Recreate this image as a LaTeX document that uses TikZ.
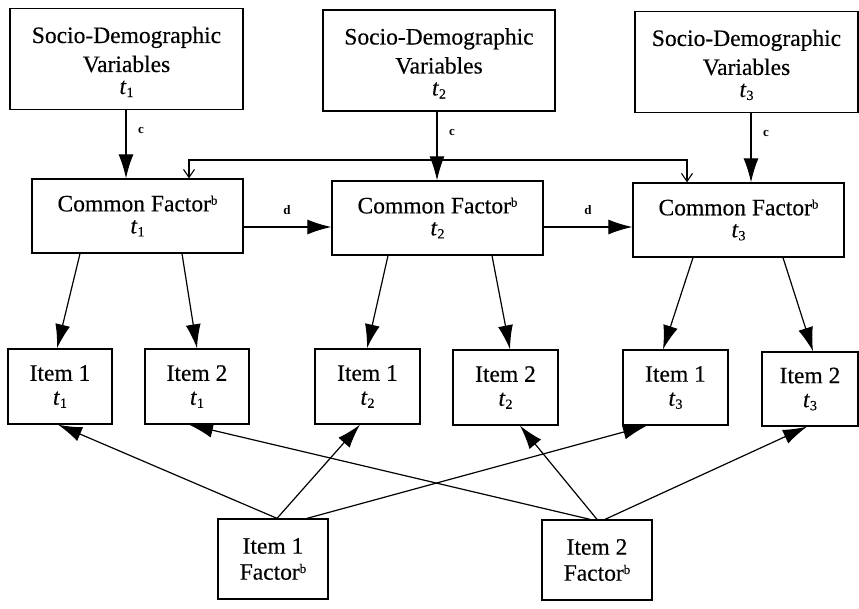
\documentclass[tikz,border=0pt]{standalone}
\usepackage{fontspec}
\setmainfont{Liberation Serif}[FakeBold=0.35, ItalicFeatures={FakeBold=0.35}, BoldFeatures={FakeBold=0}]
\usetikzlibrary{arrows.meta}
\newcommand\tsb[1]{\textit{t}\raisebox{-0.28ex}{\fontsize{14}{14}\selectfont #1}}
\newcommand\supb{\raisebox{0.62ex}{\fontsize{13}{13}\selectfont b}}
\begin{document}
\begin{tikzpicture}[x=1pt,y=-1pt,
  font=\fontsize{23.5}{26}\selectfont,
  box/.style={draw, line width=1.3pt, inner sep=0pt, align=center},
  sdbox/.style={box, minimum height=101pt},
  cfbox/.style={box, minimum width=211pt, minimum height=74pt},
  itbox/.style={box, minimum width=105pt, minimum height=75pt},
  fbox/.style={box, minimum width=110pt, minimum height=80pt},
  arr/.style={-{Latex[length=24pt,width=15pt]}, line width=1.2pt},
  fbarr/.style={-{Straight Barb[length=8pt,width=11pt]}, line width=1.1pt},
  lab/.style={font=\fontsize{13}{13}\selectfont\bfseries, inner sep=0pt}]
\useasboundingbox (0,0) rectangle (859,608);

% socio-demographic boxes
\node[sdbox, minimum width=233pt] (SD1) at (126.5,59) {\rule{0pt}{22pt}Socio-Demographic\\[3pt]Variables\\[-4pt]\tsb{1}};
\node[sdbox, minimum width=232pt] (SD2) at (439,60.5) {\rule{0pt}{22pt}Socio-Demographic\\[3pt]Variables\\[-4pt]\tsb{2}};
\node[sdbox, minimum width=223pt] (SD3) at (746.5,62) {\rule{0pt}{22pt}Socio-Demographic\\[3pt]Variables\\[-4pt]\tsb{3}};

% common factors
\node[cfbox] (CF1) at (137.5,216) {Common Factor\supb\\[-4pt]\tsb{1}};
\node[cfbox] (CF2) at (437.5,218) {Common Factor\supb\\[-4pt]\tsb{2}};
\node[cfbox] (CF3) at (738.5,220) {Common Factor\supb\\[-4pt]\tsb{3}};

% items
\node[itbox, minimum width=104pt] (I1a) at (60,386.5) {Item 1\\[-2pt]\tsb{1}};
\node[itbox, minimum width=104pt] (I2a) at (197,386.5) {Item 2\\[-2pt]\tsb{1}};
\node[itbox] (I1b) at (367.5,386.5) {Item 1\\[-2pt]\tsb{2}};
\node[itbox] (I2b) at (505.5,387.5) {Item 2\\[-2pt]\tsb{2}};
\node[itbox] (I1c) at (675.5,387.5) {Item 1\\[-2pt]\tsb{3}};
\node[itbox, minimum width=96pt, minimum height=74pt] (I2c) at (810,389) {Item 2\\[-2pt]\tsb{3}};

% item factors
\node[fbox] (F1) at (273,559) {Item 1\\Factor\supb};
\node[fbox] (F2) at (597,560) {Item 2\\Factor\supb};

% SD -> CF
\draw[arr] (SD1.south -| 126,0) -- (CF1.north -| 126,0);
\draw[arr] (SD2.south -| 437,0) -- (CF2.north -| 437,0);
\draw[arr] (SD3.south -| 751,0) -- (CF3.north -| 751,0);
\node[lab] (c1) at (141,130) {c};
\node[lab] (c2) at (452,132) {c};
\node[lab] (c3) at (766,133) {c};

% branch from SD t2 to CF t1 and CF t3
\coordinate (fb) at (437,160);
\draw[fbarr] (fb) -| (CF1.north -| 189,0);
\draw[fbarr] (fb) -| (CF3.north -| 687,0);

% CF -> CF
\draw[arr] (CF1.east |- 0,227) -- (CF2.west |- 0,227);
\draw[arr] (CF2.east |- 0,227) -- (CF3.west |- 0,227);
\node[lab] (d1) at (287,210) {d};
\node[lab] (d2) at (588,210) {d};

% CF -> items
\draw[arr] (CF1.south -| 80,0) -- (I1a.north -| 57,0);
\draw[arr] (CF1.south -| 182,0) -- (I2a.north -| 197,0);
\draw[arr] (CF2.south -| 388,0) -- (I1b.north -| 367,0);
\draw[arr] (CF2.south -| 492,0) -- (I2b.north -| 510,0);
\draw[arr] (CF3.south -| 693,0) -- (I1c.north -| 663,0);
\draw[arr] (CF3.south -| 783,0) -- (I2c.north -| 813,0);

% item factors -> items
\draw[arr] (F1.north -| 277,0) -- (I1a.south -| 58,0);
\draw[arr] (F1.north -| 277,0) -- (I1b.south -| 360,0);
\draw[arr] (F1.north -| 307,0) -- (I1c.south -| 647,0);
\draw[arr] (F2.north -| 590,0) -- (I2a.south -| 189,0);
\draw[arr] (F2.north -| 597,0) -- (I2b.south -| 520,0);
\draw[arr] (F2.north -| 605,0) -- (I2c.south -| 807,0);
\end{tikzpicture}
\end{document}
